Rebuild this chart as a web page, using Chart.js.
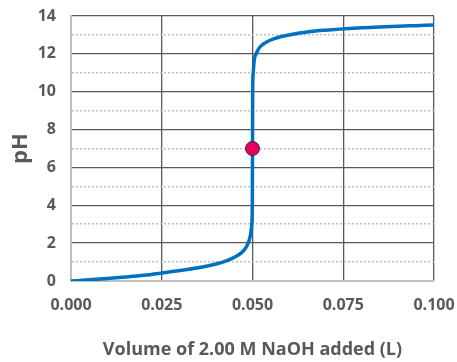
<!DOCTYPE html>
<html>
<head>
<meta charset="utf-8">
<script src="https://cdn.jsdelivr.net/npm/chart.js@4/dist/chart.umd.min.js"></script>
<style>
  html, body { margin: 0; padding: 0; background: #fff; }
  #wrap { width: 457px; height: 362px; }
</style>
</head>
<body>
<div id="wrap"><canvas id="titrationChart"></canvas></div>
<script>
// Titration curve
const volumes = [0, 0.005, 0.01, 0.015, 0.02, 0.025, 0.03, 0.035, 0.04, 0.043, 0.045, 0.047, 0.048, 0.0485, 0.049, 0.0495, 0.0498, 0.04995, 0.05, 0.05005, 0.0502, 0.0505, 0.051, 0.0515, 0.052, 0.053, 0.054, 0.056, 0.058, 0.06, 0.063, 0.066, 0.07, 0.075, 0.08, 0.085, 0.09, 0.095, 0.1];
const phValues = [0, 0.06, 0.13, 0.21, 0.3, 0.42, 0.55, 0.7, 0.9, 1.08, 1.25, 1.5, 1.72, 1.88, 2.1, 2.5, 3.0, 4.0, 7.0, 10.0, 11.0, 11.7, 12.0, 12.2, 12.35, 12.52, 12.64, 12.8, 12.92, 13.0, 13.1, 13.18, 13.25, 13.32, 13.38, 13.42, 13.46, 13.49, 13.52];

// Equivalence point
const eqVolume = [0.05];
const eqPH = [7];

const xTicks = [0, 0.025, 0.05, 0.075, 0.1];
const yMin = 0, yMax = 14;

const textColor = '#595959';
const majorGrid = '#595959';
const minorGrid = '#BFBFBF';

const ctx = document.getElementById('titrationChart').getContext('2d');
const chart = new Chart(ctx, {
    type: 'scatter',
    data: {
        datasets: [{
            label: 'Equivalence point',
            data: eqVolume.map((v, i) => ({ x: v, y: eqPH[i] })),
            backgroundColor: '#E8005C',
            borderColor: '#1F2A4A',
            borderWidth: 1,
            pointRadius: 7,
            showLine: false,
            order: 0
        }, {
            label: 'pH',
            data: volumes.map((v, i) => ({ x: v, y: phValues[i] })),
            borderColor: '#0070C0',
            borderWidth: 3.5,
            pointRadius: 0,
            showLine: true,
            cubicInterpolationMode: 'monotone',
            order: 1
        }]
    },
    options: {
        responsive: true,
        maintainAspectRatio: false,
        animation: false,
        layout: { padding: 0 },
        plugins: {
            legend: { display: false },
            tooltip: { enabled: false }
        },
        scales: {
            x: {
                type: 'linear',
                min: 0,
                max: 0.1,
                afterBuildTicks: axis => { axis.ticks = xTicks.map(v => ({ value: v })); },
                afterFit: axis => {
                    axis.height = 81;
                    axis.paddingLeft = 0;
                    axis.paddingRight = 23;
                },
                ticks: {
                    color: textColor,
                    font: { family: 'Open Sans', size: 16, weight: 'bold' },
                    padding: 15,
                    maxRotation: 0,
                    callback: v => v.toFixed(3)
                },
                grid: {
                    color: c => c.tick && c.tick.value === 0 ? minorGrid : majorGrid,
                    lineWidth: 1.3,
                    drawTicks: false
                },
                border: { display: true, color: minorGrid, width: 2 },
                title: {
                    display: true,
                    text: 'Volume of 2.00 M NaOH added (L)',
                    color: textColor,
                    font: { family: 'Open Sans', size: 18, weight: 'bold' },
                    padding: { top: 10, bottom: 1 }
                }
            },
            y: {
                min: yMin,
                max: yMax,
                afterFit: axis => {
                    axis.width = 71;
                    axis.paddingTop = 16;
                    axis.paddingBottom = 0;
                },
                ticks: {
                    stepSize: 1,
                    autoSkip: false,
                    color: textColor,
                    font: { family: 'Open Sans', size: 16, weight: 'bold' },
                    padding: 15,
                    callback: v => (v % 2 === 0 ? v : '')
                },
                grid: {
                    color: c => {
                        const v = c.tick ? c.tick.value : 0;
                        if (v === 0) return minorGrid;
                        return v % 2 === 0 ? majorGrid : minorGrid;
                    },
                    lineWidth: c => (c.tick && c.tick.value % 2 === 0 ? 1.3 : 1.5),
                    drawTicks: false
                },
                border: {
                    display: true,
                    color: minorGrid,
                    width: 2,
                    dash: c => (c.tick && c.tick.value % 2 === 1 ? [2, 2] : [])
                },
                title: {
                    display: true,
                    text: 'pH',
                    color: textColor,
                    font: { family: 'Open Sans', size: 22, weight: 'bold' },
                    padding: { top: 8, bottom: 4 }
                }
            }
        }
    }
});
</script>
</body>
</html>
